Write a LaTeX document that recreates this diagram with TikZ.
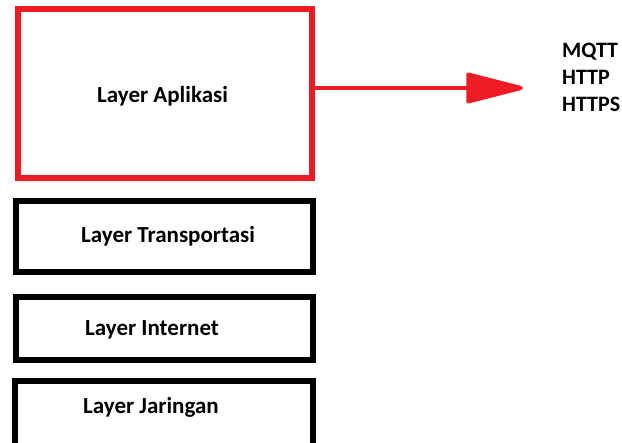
\documentclass[tikz,border=0pt]{standalone}
\usepackage{fontspec}
\setmainfont{Carlito}
\usetikzlibrary{arrows.meta}
\definecolor{paintred}{HTML}{ED1C24}
\begin{document}
\begin{tikzpicture}[x=1pt,y=-1pt,
  layerbox/.style={draw=black,line width=5.5pt,fill=white},
  appbox/.style={draw=paintred,line width=6pt,fill=white},
  lbl/.style={font=\fontsize{23}{27}\selectfont\bfseries,inner sep=0pt,anchor=west},
  proto/.style={font=\fontsize{22}{27}\selectfont\bfseries,align=left,inner sep=0pt,anchor=north west}]
\useasboundingbox (0,0) rectangle (622,443);
\clip (0,0) rectangle (622,443);
% application layer box and the protocol arrow
\draw[appbox] (18,9) rectangle (312,178);
\node[lbl] (app) at (97,96) {Layer Aplikasi};
\coordinate (appE) at (312,88);
\coordinate (tip) at (523,88);
\draw[draw=paintred,line width=4pt,-{Triangle[length=63pt,width=31pt,round]}] (appE) -- (tip);
\node[proto] (proto) at (562,43) {MQTT\\HTTP\\HTTPS};
% lower layers
\draw[layerbox] (16,201) rectangle (313,272);
\node[lbl] (trans) at (81,236) {Layer Transportasi};
\draw[layerbox] (16,297) rectangle (313,360);
\node[lbl] (inet) at (85,330) {Layer Internet};
\draw[layerbox] (15,381) rectangle (313,460);
\node[lbl] (jar) at (83,407) {Layer Jaringan};
\end{tikzpicture}
\end{document}
